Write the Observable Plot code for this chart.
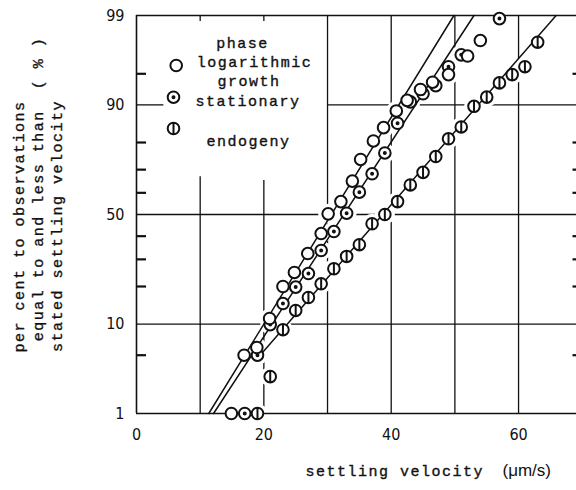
<!DOCTYPE html>
<html><head><meta charset="utf-8">
<script src="https://cdn.jsdelivr.net/npm/d3@7"></script>
<script src="https://cdn.jsdelivr.net/npm/@observablehq/plot@0.6"></script>
<style>body{margin:0;background:#fff;}</style>
</head><body><div id="chart"></div>
<script>
// ---------- data ----------
const legendHeading = "phase";
const seriesNames = ["logarithmic growth", "stationary", "endogeny"];

const growthX = [14.9, 16.9, 18.9, 20.9, 23.0, 24.8, 26.9, 29.0, 30.1, 32.1, 33.9, 35.2, 37.2, 38.8, 40.8, 42.5, 44.6, 46.5, 49.0, 52.0, 54.0];
const growthP = [1.0, 5.0, 6.0, 11.2, 20.0, 24.9, 32.4, 41.2, 50.3, 56.0, 65.2, 74.0, 80.5, 84.5, 88.7, 90.9, 92.8, 93.9, 94.9, 96.8, 97.9];

const stationaryX = [17, 19, 21, 23, 25, 27, 29, 31, 33, 35, 37, 39, 41, 43, 45, 47, 49, 51, 57];
const stationaryP = [1.0, 5.0, 9.9, 14.9, 19.8, 24.5, 33.7, 42.1, 50.6, 60.3, 68.3, 76.4, 85.7, 90.6, 92.1, 93.4, 95.8, 96.9, 98.9];

const endogenyX = [19, 21, 23, 25, 27, 29, 31, 33, 35, 37, 39, 41, 43, 45, 47, 49, 51, 53, 55, 57, 59, 61, 63];
const endogenyP = [1.0, 2.9, 8.9, 13.1, 16.6, 20.9, 26.3, 31.2, 36.2, 45.7, 50.0, 56.0, 63.5, 68.9, 75.1, 81.2, 84.7, 89.7, 91.5, 93.8, 94.9, 95.8, 97.8];

// fitted straight lines (end points, x in µm/s, p in %)
const fitGrowthX = [11.35, 49.85];
const fitGrowthP = [1, 99];
const fitStationaryX = [12.1, 53.0];
const fitStationaryP = [1, 99];
const fitEndogenyX = [18.7, 65.9];
const fitEndogenyP = [4.4, 99];

const xTicks = [0, 20, 40, 60];
const yTicks = [1, 10, 50, 90, 99];
const yMinorTicks = [5, 20, 30, 40, 60, 70, 80, 95];
const xDomain = [0, 69.1];
const yDomainP = [1, 99];

// grid segments as drawn in the original (broken around the legend)
const vGridX    = [10, 10, 20, 20, 30, 40, 50, 60];
const vGridFrom = [1, 98.8, 1, 98.8, 1, 1, 1, 1];
const vGridTo   = [67, 99, 65.5, 99, 99, 99, 99, 99];
const hGridY    = [10, 50, 90, 90];
const hGridFrom = [0, 0, 0, 30];
const hGridTo   = [69.1, 69.1, 4.3, 69.1];

const yTitleLines = ["per cent to observations", "equal to and less than  ( % )", "stated settling velocity"];
const xTitle = "settling velocity";
const xUnit = "(\u03bcm/s)";

// ---------- helpers ----------
function probit(p) {
  const a=[-3.969683028665376e+01,2.209460984245205e+02,-2.759285104469687e+02,1.383577518672690e+02,-3.066479806614716e+01,2.506628277459239e+00];
  const b=[-5.447609879822406e+01,1.615858368580409e+02,-1.556989798598866e+02,6.680131188771972e+01,-1.328068155288572e+01];
  const c=[-7.784894002430293e-03,-3.223964580411365e-01,-2.400758277161838e+00,-2.549732539343734e+00,4.374664141464968e+00,2.938163982698783e+00];
  const d=[7.784695709041462e-03,3.224671290700398e-01,2.445134137142996e+00,3.754408661907416e+00];
  const pl = 0.02425, ph = 1 - pl;
  let q, r;
  if (p < pl) { q = Math.sqrt(-2*Math.log(p)); return (((((c[0]*q+c[1])*q+c[2])*q+c[3])*q+c[4])*q+c[5])/((((d[0]*q+d[1])*q+d[2])*q+d[3])*q+1); }
  if (p <= ph) { q = p - 0.5; r = q*q; return (((((a[0]*r+a[1])*r+a[2])*r+a[3])*r+a[4])*r+a[5])*q/(((((b[0]*r+b[1])*r+b[2])*r+b[3])*r+b[4])*r+1); }
  q = Math.sqrt(-2*Math.log(1-p)); return -(((((c[0]*q+c[1])*q+c[2])*q+c[3])*q+c[4])*q+c[5])/((((d[0]*q+d[1])*q+d[2])*q+d[3])*q+1);
}
const toRows = (xs, ps, series) => xs.map((x, i) => ({x, p: ps[i], series}));

const growth = toRows(growthX, growthP, seriesNames[0]);
const stationary = toRows(stationaryX, stationaryP, seriesNames[1]);
const endogeny = toRows(endogenyX, endogenyP, seriesNames[2]);
const allPoints = [...stationary, ...growth, ...endogeny];
const fits = [
  ...toRows(fitGrowthX, fitGrowthP, seriesNames[0]),
  ...toRows(fitStationaryX, fitStationaryP, seriesNames[1]),
  ...toRows(fitEndogenyX, fitEndogenyP, seriesNames[2])
];
const vGrid = vGridX.map((x, i) => ({x, from: vGridFrom[i], to: vGridTo[i]}));
const hGrid = hGridY.map((y, i) => ({y, from: hGridFrom[i], to: hGridTo[i]}));
const tickLen = 10 * (xDomain[1] - xDomain[0]) / 440; // 10 px expressed in x units
const minorLeft = yMinorTicks.map(y => ({y, from: xDomain[0], to: xDomain[0] + tickLen}));
const minorRight = yMinorTicks.map(y => ({y, from: xDomain[1] - 0.35 * tickLen, to: xDomain[1]}));

// custom symbols
const ring = {draw(ctx, size){ const r = Math.sqrt(size/Math.PI); ctx.moveTo(r,0); ctx.arc(0,0,r,0,2*Math.PI); }};
const ringDot = {draw(ctx, size){ const r = Math.sqrt(size/Math.PI); ctx.moveTo(r,0); ctx.arc(0,0,r,0,2*Math.PI); const s = r*0.17; ctx.moveTo(s,0); ctx.arc(0,0,s,0,2*Math.PI); }};
const ringBar = {draw(ctx, size){ const r = Math.sqrt(size/Math.PI); ctx.moveTo(r,0); ctx.arc(0,0,r,0,2*Math.PI); ctx.moveTo(0,-r); ctx.lineTo(0,r); }};

const ink = "#111";
const mono = "Liberation Mono, DejaVu Sans Mono, monospace";
const num = "DejaVu Sans Condensed, Liberation Sans Narrow, Liberation Sans, sans-serif";
const R = 5.8;
const dotStyle = {r: R, fill: "white", stroke: ink, strokeWidth: 2};
const monoText = {text: d => d, fontFamily: mono, fontSize: 15, fill: ink, stroke: ink, strokeWidth: 0.35, textAnchor: "middle"};

const plot = Plot.plot({
  width: 576, height: 490,
  marginLeft: 136, marginRight: 0, marginTop: 15, marginBottom: 77,
  x: {domain: xDomain, label: null},
  y: {domain: yDomainP.map(p => probit(p/100)), transform: p => probit(p/100), label: null},
  style: {background: "white", color: ink},
  marks: [
    Plot.ruleX(vGrid, {x: "x", y1: "from", y2: "to", stroke: ink, strokeWidth: 1.3}),
    Plot.ruleY(hGrid, {y: "y", x1: "from", x2: "to", stroke: ink, strokeWidth: 1.3}),
    Plot.dot(allPoints, {x: "x", y: "p", r: 10, fill: "white"}),
    Plot.ruleX([xDomain[0]], {stroke: ink, strokeWidth: 1.6}),
    Plot.ruleY(yDomainP, {stroke: ink, strokeWidth: 1.6}),
    // inner minor ticks, left (10 px) and right edge
    Plot.ruleY(minorLeft, {y: "y", x1: "from", x2: "to", stroke: ink, strokeWidth: 2.2}),
    Plot.ruleY(minorRight, {y: "y", x1: "from", x2: "to", stroke: ink, strokeWidth: 2.2}),
    Plot.axisY(yTicks, {anchor: "left", tickSize: 0, tickPadding: 12, fontSize: 16, fontFamily: num, tickFormat: d => String(d), label: null}),
    Plot.axisX(xTicks, {tickSize: 0, tickPadding: 15, fontSize: 16, fontFamily: num, tickFormat: d => String(d), label: null}),
    Plot.line(fits, {x: "x", y: "p", z: "series", stroke: ink, strokeWidth: 1.5}),
    Plot.dot(stationary, {x: "x", y: "p", symbol: ringDot, ...dotStyle}),
    Plot.dot(growth, {x: "x", y: "p", symbol: ring, ...dotStyle}),
    Plot.dot(endogeny, {x: "x", y: "p", symbol: ringBar, ...dotStyle}),
    // legend
    Plot.dot([seriesNames[0]], {frameAnchor: "top-left", dx: 39.7, dy: 50, symbol: ring, ...dotStyle}),
    Plot.dot([seriesNames[1]], {frameAnchor: "top-left", dx: 37, dy: 81.7, symbol: ringDot, ...dotStyle}),
    Plot.dot([seriesNames[2]], {frameAnchor: "top-left", dx: 37, dy: 113, symbol: ringBar, ...dotStyle}),
    Plot.text([legendHeading], {...monoText, frameAnchor: "top-left", dx: 106, dy: 22}),
    Plot.text([seriesNames[0].split(" ")[0]], {...monoText, frameAnchor: "top-left", dx: 118, dy: 41}),
    Plot.text([seriesNames[0].split(" ")[1]], {...monoText, frameAnchor: "top-left", dx: 112.5, dy: 59.5}),
    Plot.text([seriesNames[1]], {...monoText, frameAnchor: "top-left", dx: 111.5, dy: 79.5}),
    Plot.text([seriesNames[2]], {...monoText, frameAnchor: "top-left", dx: 112, dy: 119.5}),
    // axis titles
    Plot.text([yTitleLines[0]], {...monoText, frameAnchor: "left", rotate: -90, dx: -117, dy: 12}),
    Plot.text([yTitleLines[1]], {...monoText, frameAnchor: "left", rotate: -90, dx: -98.5, dy: -25.5}),
    Plot.text([yTitleLines[2]], {...monoText, frameAnchor: "left", rotate: -90, dx: -79, dy: 11.5}),
    Plot.text([xTitle], {...monoText, frameAnchor: "bottom-left", textAnchor: "start", dx: 169, dy: 62}),
    Plot.text([xUnit], {text: d => d, frameAnchor: "bottom-left", textAnchor: "start", dx: 366, dy: 62, fontFamily: "Liberation Sans, sans-serif", fontSize: 17, fill: ink})
  ]
});
d3.select(plot).selectAll("g[font-family*='Mono']").attr("letter-spacing", "1.5px");
document.getElementById("chart").appendChild(plot);
</script>
</body></html>
